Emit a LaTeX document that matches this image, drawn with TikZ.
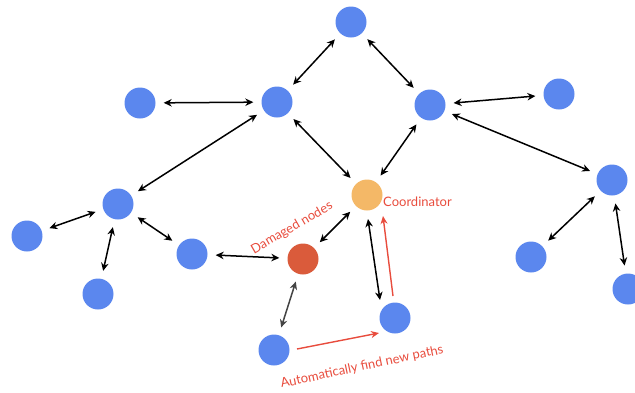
\documentclass[tikz,border=0pt]{standalone}
\usepackage{fontspec}
\setmainfont{Lato}
\usetikzlibrary{arrows.meta,calc}
\definecolor{nblue}{HTML}{5B87EE}
\definecolor{norange}{HTML}{F4B867}
\definecolor{nred}{HTML}{DA5B3B}
\definecolor{tred}{HTML}{E84C3D}
\definecolor{dgray}{HTML}{444444}
\begin{document}
\begin{tikzpicture}[x=1pt,y=-1pt,
  nd/.style={circle,fill=nblue,minimum size=31pt,inner sep=0pt},
  link/.style={{Stealth[length=8pt,width=7.5pt]}-{Stealth[length=8pt,width=7.5pt]},line width=1.5pt,shorten <=8pt,shorten >=8pt},
  redarrow/.style={-{Stealth[length=8pt,width=7pt]},line width=1.4pt,draw=tred},
  lbl/.style={text=tred,font=\fontsize{13}{15}\selectfont,inner sep=0pt}]
\useasboundingbox (0,0) rectangle (635,392);
% nodes
\node[nd] (top) at (351,22) {};
\node[nd] (a) at (140,103) {};
\node[nd] (b) at (277,102) {};
\node[nd] (c) at (430,105) {};
\node[nd] (d) at (559,94) {};
\node[nd] (e) at (118,204) {};
\node[nd] (f) at (27,236) {};
\node[nd] (g) at (98,294) {};
\node[nd] (h) at (192,254) {};
\node[nd,fill=nred] (dam) at (303,259) {};
\node[nd,fill=norange] (coord) at (367,195) {};
\node[nd] (i) at (395,318) {};
\node[nd] (j) at (274,350) {};
\node[nd] (k) at (612,180) {};
\node[nd] (l) at (531,257) {};
\node[nd] (m) at (628,289) {};
% links
\draw[link] (a) -- (b);
\draw[link] (b) -- (top);
\draw[link] (top) -- (c);
\draw[link] (c) -- (d);
\draw[link] (b) -- (e);
\draw[link] (b) -- (coord);
\draw[link] (c) -- (coord);
\draw[link] (c) -- (k);
\draw[link] (e) -- (f);
\draw[link] (e) -- (g);
\draw[link] (e) -- (h);
\draw[link] (h) -- (dam);
\draw[link] (dam) -- (coord);
\draw[link,draw=dgray] (dam) -- (j);
\draw[link,shorten <=0pt,shorten >=0pt] ($(coord)+(1,24)$) -- ($(i)+(-15,-18)$);
\draw[link] (k) -- (l);
\draw[link] (k) -- (m);
% red arrows
\draw[redarrow] ($(i)+(-2,-22)$) -- ($(coord)+(16,21)$);
\draw[redarrow] ($(j)+(23,-1)$) -- ($(i)+(-16,15)$);
% labels
\node[lbl,anchor=west] (lc) at (383,202) {Coordinator};
\node[lbl,rotate=30] (ld) at (292,228) {Damaged nodes};
\node[lbl,rotate=12] (la) at (362,367) {Automatically find new paths};
\end{tikzpicture}
\end{document}
